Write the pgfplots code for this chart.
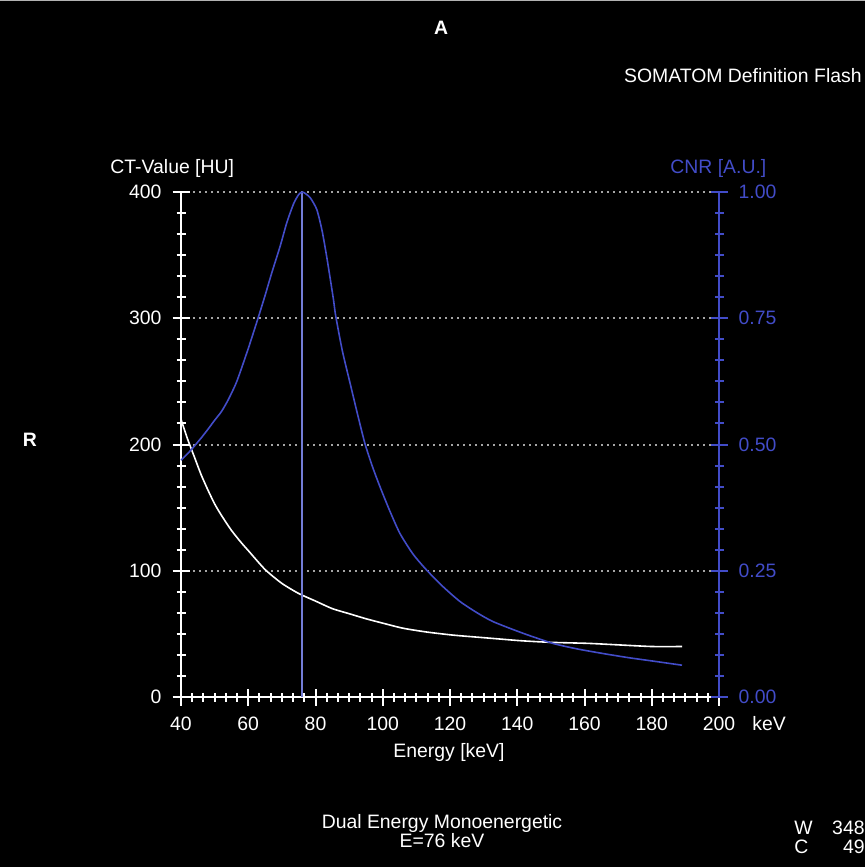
\documentclass[border=0pt]{standalone}
\usepackage{fontspec}
\setmainfont{Liberation Sans}
\usepackage{pgfplots}
\pgfplotsset{compat=1.18}
\definecolor{cnr}{RGB}{66,76,200}
\definecolor{cnrlight}{RGB}{115,125,215}
\definecolor{gridc}{RGB}{165,165,165}
\newcommand{\fs}{\fontsize{9.7}{11}\selectfont}

\pgfplotsset{
  ctbase/.style={
    at={(90.5pt,-348.5pt)}, anchor=south west,
    width=269pt, height=252.5pt, scale only axis,
    xmin=40, xmax=200,
    clip=false,
    tick align=center,
    major tick length=8.5pt, minor tick length=4.5pt,
    every tick label/.append style={font=\fs},
  },
}

\begin{document}
\begin{tikzpicture}
\begin{scope}[x=0.5pt,y=-0.5pt]
  \useasboundingbox (0,0) rectangle (865,867);
  \fill[black] (0,0) rectangle (865,867);
  \draw[gray!60,line width=0.8pt] (0,0.5) -- (865,0.5);
\end{scope}

% left axis: CT value
\begin{axis}[
  ctbase,
  ymin=0, ymax=400,
  axis x line*=bottom, axis y line*=left,
  axis line style={white, line width=1pt, -},
  xtick={40,60,...,200},
  xticklabels={40,60,80,100,120,140,160,180,200},
  minor x tick num=5,
  ytick={0,100,200,300,400},
  yticklabels={0,100,200,300,400},
  minor y tick num=5,
  tick style={white, line width=1pt},
  xticklabel style={white, yshift=-2pt},
  yticklabel style={white, xshift=-2pt},
  ymajorgrids,
  major grid style={gridc, line width=1pt, dash pattern=on 1pt off 2pt},
]
\addplot[white, line width=0.8pt, smooth, tension=0.4] coordinates {
  (40,220)(42,204)(44,190)(46,176)(48,164)(50,153)(52,144)(55,132)
  (58,122)(60,116)(65,101)(70,90)(75,82)(80,76)(85,70)(90,66)(95,62)
  (100,58.5)(106,54.5)(113,51.5)(121,49)(130,47)(141,44.6)(150,43.3)
  (161,42.5)(170,41.3)(180,40)(189,40)
};
\addplot[cnrlight, line width=0.9pt] coordinates {(76,0)(76,400)};
\end{axis}

% right axis: CNR
\begin{axis}[
  ctbase,
  ymin=0, ymax=1,
  axis x line=none, axis y line*=right,
  axis line style={cnr, line width=1pt, -},
  ytick={0,0.25,0.5,0.75,1},
  yticklabels={0.00,0.25,0.50,0.75,1.00},
  minor y tick num=5,
  tick style={cnr, line width=1pt},
  yticklabel style={cnr, xshift=2pt},
]
\addplot[cnr, line width=0.8pt, smooth, tension=0.4] coordinates {
  (40,0.469)(42,0.482)(44,0.497)(46,0.513)(48,0.530)(50,0.548)(52,0.565)
  (54,0.588)(56.6,0.625)(60,0.69)(63,0.752)(65,0.795)(67,0.84)(69.5,0.893)
  (71.5,0.94)(73.5,0.977)(75,0.995)(76,1.0)(77,0.997)(78.5,0.988)
  (80.4,0.965)(82,0.922)(83.5,0.865)(85.3,0.789)(86,0.755)(88,0.685)
  (90.3,0.621)(92.5,0.56)(94.7,0.502)(97,0.455)(99.2,0.416)(102,0.37)
  (105.1,0.324)(109,0.283)(113.1,0.251)(118,0.218)(123,0.189)(128,0.167)
  (132.9,0.149)(141.8,0.126)(150.7,0.106)(158,0.095)(165.6,0.086)
  (173,0.078)(180.5,0.071)(189,0.063)
};
\end{axis}

\begin{scope}[x=0.5pt,y=-0.5pt, every node/.style={font=\fs, inner sep=0pt}]
  \node[white, font=\fs\bfseries] at (441,28) {A};
  \node[white, font=\fs\bfseries] at (30,440) {R};
  \node[white, anchor=east] at (862,76) {SOMATOM Definition Flash};
  \node[white, anchor=west] at (110,168) {CT-Value [HU]};
  \node[cnr, anchor=west] at (670,168) {CNR [A.U.]};
  \node[white, anchor=west] at (752,724) {keV};
  \node[white] at (449,752) {Energy [keV]};
  \node[white] at (442,823) {Dual Energy Monoenergetic};
  \node[white] at (442,841) {E=76 keV};
  \node[white, anchor=west] at (794,828) {W};
  \node[white, anchor=east] at (865,828) {348};
  \node[white, anchor=west] at (794,847) {C};
  \node[white, anchor=east] at (865,847) {49};
\end{scope}
\end{tikzpicture}
\end{document}
